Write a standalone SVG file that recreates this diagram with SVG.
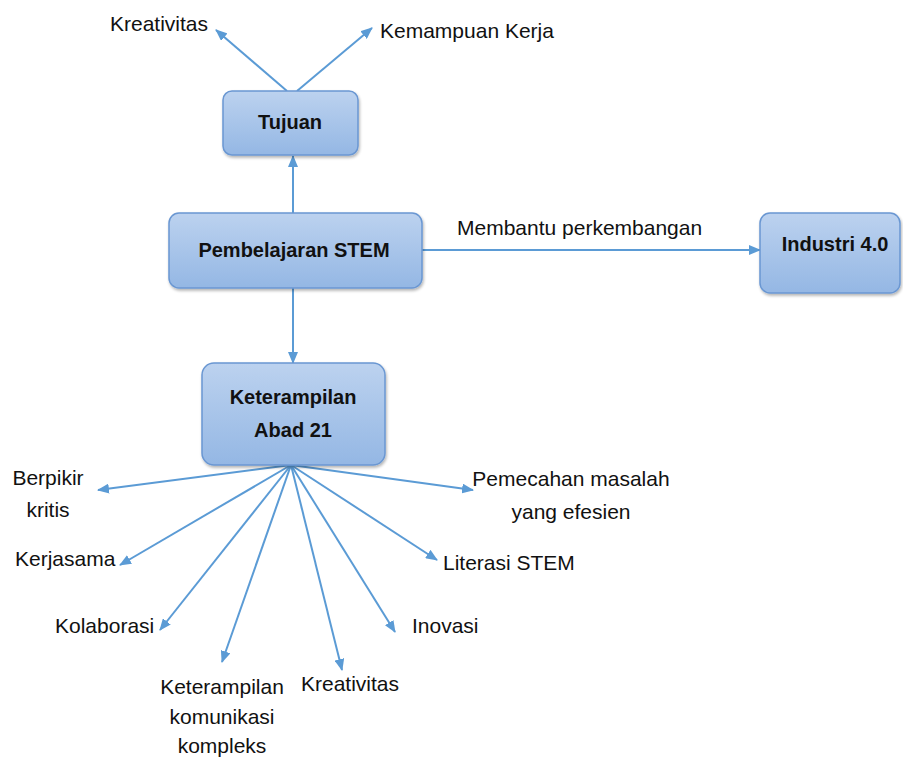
<svg xmlns="http://www.w3.org/2000/svg" width="903" height="760" viewBox="0 0 903 760">
<defs>
<linearGradient id="bg" x1="0" y1="0" x2="0" y2="1">
<stop offset="0" stop-color="#bcd2ef"/>
<stop offset="1" stop-color="#94b7e4"/>
</linearGradient>
<filter id="sh" x="-10%" y="-10%" width="130%" height="140%">
<feGaussianBlur in="SourceAlpha" stdDeviation="1.5"/>
<feOffset dx="1" dy="2" result="o"/>
<feComponentTransfer><feFuncA type="linear" slope="0.3"/></feComponentTransfer>
<feMerge><feMergeNode/><feMergeNode in="SourceGraphic"/></feMerge>
</filter>
<marker id="ah" viewBox="0 0 12 10" refX="11" refY="5" markerWidth="12" markerHeight="10" markerUnits="userSpaceOnUse" orient="auto">
<path d="M0,0 L12,5 L0,10 Z" fill="#5b9bd5"/>
</marker>
<style>
.box{fill:url(#bg);stroke:#6a97d2;stroke-width:1.5;filter:url(#sh)}
.bt{font-family:"Liberation Sans",Arial,sans-serif;font-weight:bold;font-size:20px;fill:#111;text-anchor:middle}
.t{font-family:"Liberation Sans",Arial,sans-serif;font-size:21px;fill:#111}
.c{stroke:#5b9bd5;stroke-width:2;fill:none;marker-end:url(#ah)}
</style>
</defs>
<rect width="903" height="760" fill="#fff"/>
<g id="connectors">
<line class="c" x1="287" y1="91" x2="216" y2="30"/>
<line class="c" x1="297" y1="91" x2="372" y2="28"/>
<line class="c" x1="293" y1="213" x2="293" y2="156"/>
<line class="c" x1="293" y1="288" x2="293" y2="363"/>
<line class="c" x1="422" y1="250" x2="760" y2="250"/>
<line class="c" x1="291" y1="465" x2="98" y2="490"/>
<line class="c" x1="291" y1="465" x2="120" y2="565"/>
<line class="c" x1="291" y1="465" x2="160" y2="630"/>
<line class="c" x1="291" y1="465" x2="222" y2="662"/>
<line class="c" x1="291" y1="465" x2="342" y2="670"/>
<line class="c" x1="291" y1="465" x2="395" y2="632"/>
<line class="c" x1="291" y1="465" x2="437" y2="560"/>
<line class="c" x1="291" y1="465" x2="473" y2="490"/>
<text class="t" x="457" y="235">Membantu perkembangan</text>
</g>
<g id="tujuan">
<rect class="box" x="223" y="91" width="135" height="64" rx="9"/>
<text class="bt" x="290" y="129">Tujuan</text>
</g>
<g id="pembelajaran">
<rect class="box" x="169" y="213" width="253" height="75" rx="10"/>
<text class="bt" x="294" y="257">Pembelajaran STEM</text>
</g>
<g id="industri">
<rect class="box" x="760" y="213" width="140" height="80" rx="10"/>
<text class="bt" x="835" y="251">Industri 4.0</text>
</g>
<g id="keterampilan">
<rect class="box" x="202" y="363" width="183" height="102" rx="12"/>
<text class="bt" x="293" y="404">Keterampilan</text>
<text class="bt" x="293" y="437">Abad 21</text>
</g>
<g id="kreativitas-top"><text class="t" x="110" y="31">Kreativitas</text></g>
<g id="kemampuan"><text class="t" x="380" y="38">Kemampuan Kerja</text></g>
<g id="berpikir"><text class="t" x="48" y="485" text-anchor="middle">Berpikir</text><text class="t" x="48" y="517" text-anchor="middle">kritis</text></g>
<g id="kerjasama"><text class="t" x="15" y="566">Kerjasama</text></g>
<g id="kolaborasi"><text class="t" x="55" y="633">Kolaborasi</text></g>
<g id="komunikasi"><text class="t" x="222" y="694" text-anchor="middle">Keterampilan</text><text class="t" x="222" y="724" text-anchor="middle">komunikasi</text><text class="t" x="222" y="753" text-anchor="middle">kompleks</text></g>
<g id="kreativitas"><text class="t" x="301" y="691">Kreativitas</text></g>
<g id="inovasi"><text class="t" x="412" y="633">Inovasi</text></g>
<g id="literasi"><text class="t" x="443" y="570">Literasi STEM</text></g>
<g id="pemecahan"><text class="t" x="571" y="486" text-anchor="middle">Pemecahan masalah</text><text class="t" x="571" y="519" text-anchor="middle">yang efesien</text></g>
</svg>
